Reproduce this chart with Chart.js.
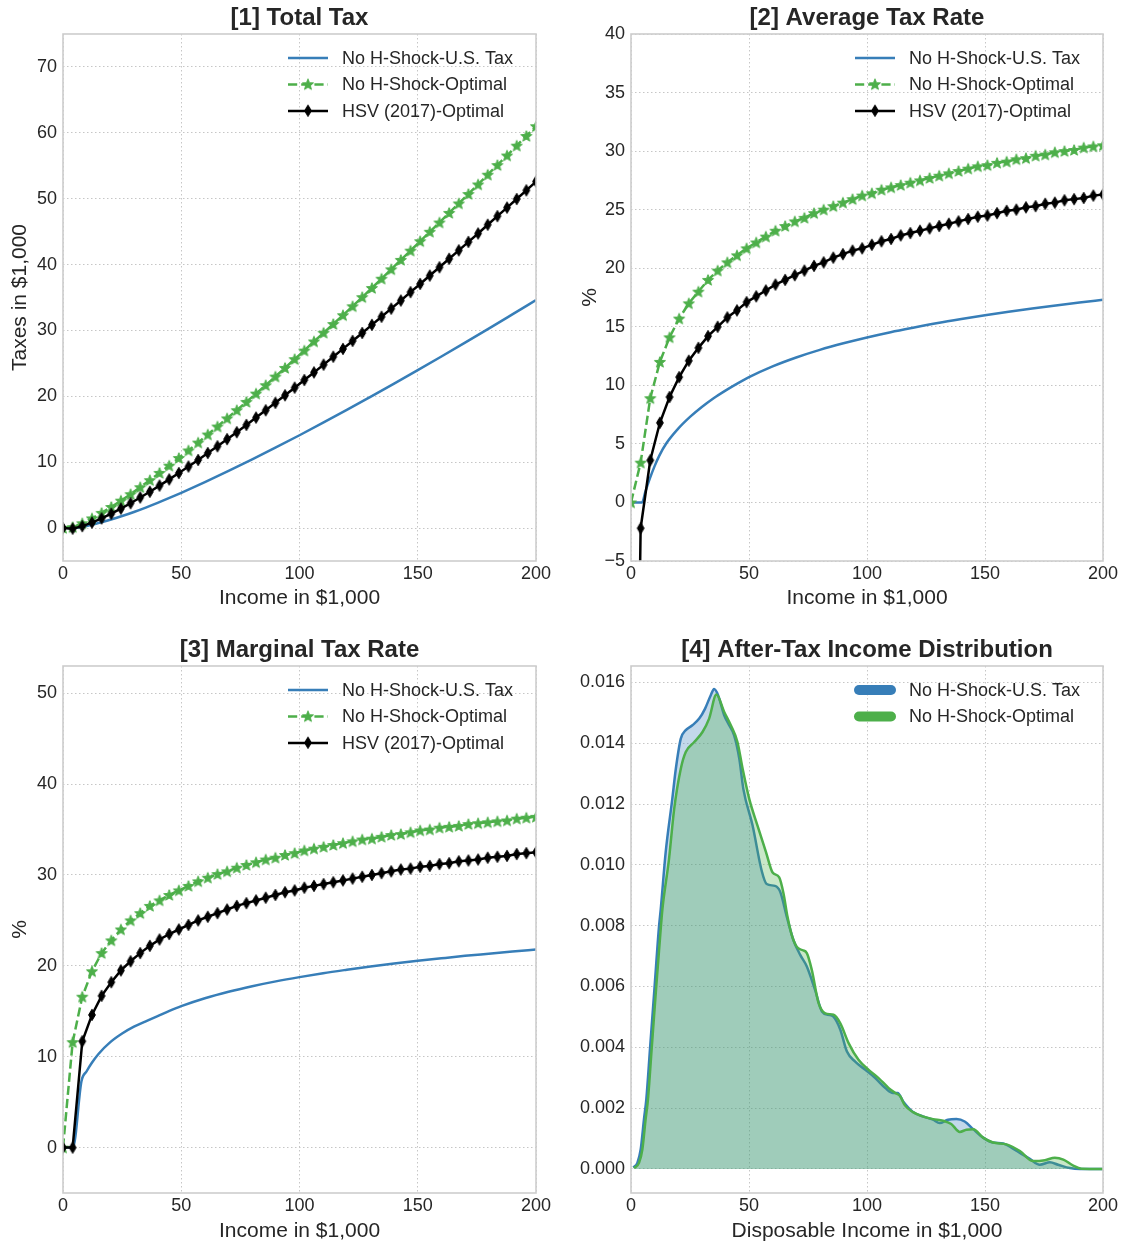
<!DOCTYPE html>
<html>
<head>
<meta charset="utf-8">
<script src="https://cdn.jsdelivr.net/npm/chart.js@4.4.0/dist/chart.umd.min.js"></script>
<style>
  html, body { margin: 0; padding: 0; background: #ffffff; }
  #fig { position: relative; width: 1124px; height: 1244px; overflow: hidden; }
  #fig canvas { position: absolute; }
</style>
</head>
<body>
<div id="fig">
  <canvas id="totalTax" width="562" height="622" style="left:0px;top:0px"></canvas>
  <canvas id="avgRate" width="562" height="622" style="left:562px;top:0px"></canvas>
  <canvas id="margRate" width="562" height="622" style="left:0px;top:622px"></canvas>
  <canvas id="density" width="562" height="622" style="left:562px;top:622px"></canvas>
</div>
<script>
// ---------------- data ----------------
// income grid (in $1,000) on which the optimal schedules are evaluated
const incomeGrid = [0, 4.08, 8.16, 12.24, 16.33, 20.41, 24.49, 28.57, 32.65, 36.73,
  40.82, 44.90, 48.98, 53.06, 57.14, 61.22, 65.31, 69.39, 73.47, 77.55,
  81.63, 85.71, 89.80, 93.88, 97.96, 102.04, 106.12, 110.20, 114.29, 118.37,
  122.45, 126.53, 130.61, 134.69, 138.78, 142.86, 146.94, 151.02, 155.10, 159.18,
  163.27, 167.35, 171.43, 175.51, 179.59, 183.67, 187.76, 191.84, 195.92, 200];

// [1] total tax, $1,000
const totalTaxOptimal = [0, 0.14, 0.73, 1.47, 2.30, 3.20, 4.16, 5.14, 6.20, 7.27,
  8.37, 9.47, 10.63, 11.78, 12.97, 14.20, 15.41, 16.65, 17.89, 19.15,
  20.41, 21.68, 22.99, 24.31, 25.64, 26.94, 28.33, 29.64, 30.97, 32.31,
  33.67, 35.05, 36.44, 37.85, 39.27, 40.71, 42.11, 43.54, 44.98, 46.38,
  47.84, 49.27, 50.71, 52.16, 53.64, 55.10, 56.55, 58.05, 59.52, 61.0];
const totalTaxHSV = [0, -0.09, 0.29, 0.83, 1.47, 2.18, 2.96, 3.77, 4.64, 5.51,
  6.45, 7.39, 8.35, 9.34, 10.34, 11.39, 12.41, 13.50, 14.55, 15.66,
  16.77, 17.88, 19.01, 20.16, 21.31, 22.47, 23.63, 24.81, 26.01, 27.20,
  28.41, 29.62, 30.85, 32.07, 33.31, 34.54, 35.81, 37.06, 38.33, 39.59,
  40.88, 42.16, 43.44, 44.72, 46.05, 47.35, 48.65, 49.95, 51.27, 52.6];

// [2] average tax rate, %
const avgRateOptimal = [0, 3.4, 8.9, 12.0, 14.1, 15.7, 17.0, 18.0, 19.0, 19.8,
  20.5, 21.1, 21.7, 22.2, 22.7, 23.2, 23.6, 24.0, 24.3, 24.7,
  25.0, 25.3, 25.6, 25.9, 26.2, 26.4, 26.7, 26.9, 27.1, 27.3,
  27.5, 27.7, 27.9, 28.1, 28.3, 28.5, 28.7, 28.8, 29.0, 29.1,
  29.3, 29.4, 29.6, 29.7, 29.9, 30.0, 30.1, 30.3, 30.4, 30.5];
const avgRateHSV = [-60, -2.2, 3.6, 6.8, 9.0, 10.7, 12.1, 13.2, 14.2, 15.0,
  15.8, 16.4, 17.1, 17.6, 18.1, 18.6, 19.0, 19.4, 19.8, 20.2,
  20.5, 20.9, 21.2, 21.5, 21.7, 22.0, 22.3, 22.5, 22.8, 23.0,
  23.2, 23.4, 23.6, 23.8, 24.0, 24.2, 24.4, 24.5, 24.7, 24.9,
  25.0, 25.2, 25.3, 25.5, 25.6, 25.8, 25.9, 26.0, 26.2, 26.3];

// [3] marginal tax rate, %
const margRateOptimal = [0, 11.6, 16.6, 19.4, 21.4, 22.8, 24.0, 25.0, 25.8, 26.6,
  27.2, 27.8, 28.3, 28.8, 29.3, 29.7, 30.1, 30.4, 30.8, 31.1,
  31.4, 31.7, 31.9, 32.2, 32.4, 32.7, 32.9, 33.1, 33.3, 33.5,
  33.7, 33.9, 34.0, 34.2, 34.4, 34.5, 34.7, 34.9, 35.0, 35.2,
  35.3, 35.4, 35.6, 35.7, 35.8, 35.9, 36.0, 36.2, 36.3, 36.4];
const margRateHSV = [0, 0, 11.7, 14.6, 16.7, 18.2, 19.5, 20.5, 21.4, 22.2,
  22.9, 23.5, 24.0, 24.5, 25.0, 25.4, 25.8, 26.2, 26.6, 26.9,
  27.2, 27.5, 27.8, 28.1, 28.3, 28.6, 28.8, 29.0, 29.2, 29.4,
  29.6, 29.8, 30.0, 30.2, 30.4, 30.6, 30.7, 30.9, 31.0, 31.2,
  31.3, 31.5, 31.6, 31.7, 31.9, 32.0, 32.1, 32.3, 32.4, 32.5];

// current U.S. tax schedule
const usIncome = [0, 4.7, 6, 8, 10, 12, 15, 20, 25, 30, 35, 40, 45, 50, 60, 70, 80, 90, 100,
  110, 120, 130, 140, 150, 160, 170, 180, 190, 200];
const usTotalTax = [0, 0, 0.051, 0.164, 0.31, 0.48, 0.758, 1.26, 1.825, 2.445, 3.115, 3.82, 4.568, 5.35,
  6.972, 8.666, 10.424, 12.231, 14.09, 15.994, 17.928, 19.916, 21.924, 23.97, 26.048, 28.152, 30.276, 32.433, 34.6];
const usAvgRate = [0, 0, 0.85, 2.05, 3.1, 4.0, 5.05, 6.3, 7.3, 8.15, 8.9, 9.55, 10.15, 10.7,
  11.62, 12.38, 13.03, 13.59, 14.09, 14.54, 14.94, 15.32, 15.66, 15.98, 16.28, 16.56, 16.82, 17.07, 17.3];
const usMargIncome = [0, 4.2, 7.8, 10, 12, 15, 20, 25, 30, 35, 40, 45, 50, 60, 70, 80, 90, 100,
  110, 120, 130, 140, 150, 160, 170, 180, 190, 200];
const usMargRate = [0, 0, 7.3, 8.4, 9.25, 10.3, 11.6, 12.55, 13.3, 13.9, 14.47, 15.04, 15.56, 16.43,
  17.15, 17.76, 18.29, 18.76, 19.19, 19.57, 19.93, 20.25, 20.55, 20.83, 21.10, 21.34, 21.58, 21.8];

// [4] after-tax income densities
const usDensityX = [1.0, 2.7, 4.1, 5.5, 6.5, 8.1, 10.0, 11.9, 12.6, 14.7,
  17.5, 19.0, 21.1, 23.2, 26.0, 28.9, 31.4, 33.8, 35.2, 36.9,
  39.5, 41.6, 43.7, 45.9, 47.6, 51.5, 55.4, 57.5, 61.0, 63.2,
  66.0, 68.8, 71.7, 74.5, 78.0, 80.9, 83.7, 85.8, 88.7, 91.5,
  95.0, 99.3, 103.5, 107.8, 111.0, 113.0, 115.5, 119.5, 123.7, 128.0,
  130.8, 134.3, 137.9, 141.4, 145.0, 149.2, 153.4, 157.7, 161.2, 164.8,
  169.0, 173.2, 177.5, 181.0, 186.0, 190.2, 200];
const usDensityY = [0.00005, 0.0002, 0.00064, 0.00164, 0.0023, 0.0040, 0.0060, 0.0080, 0.00854, 0.01042,
  0.01217, 0.01316, 0.01415, 0.01443, 0.01459, 0.01481, 0.01514, 0.01558, 0.01578, 0.01558,
  0.01492, 0.01459, 0.01426, 0.01349, 0.0125, 0.0113, 0.0098, 0.00937, 0.00931, 0.00912,
  0.0083, 0.00753, 0.00704, 0.00666, 0.00589, 0.00518, 0.00507, 0.00501, 0.00458, 0.00386,
  0.00353, 0.00326, 0.00299, 0.00266, 0.0025, 0.0025, 0.0022, 0.00187, 0.00173, 0.00162,
  0.00151, 0.00162, 0.00164, 0.00156, 0.00131, 0.00103, 0.00087, 0.00084, 0.0007, 0.00053,
  0.00033, 0.00014, 0.00022, 0.00014, 0.00003, 0, 0];
const optDensityX = [1.3, 3.4, 4.8, 6.2, 7.2, 8.8, 10.7, 12.7, 13.3, 16.1,
  18.3, 21.1, 23.2, 26.8, 30.3, 33.1, 36.2, 39.5, 42.3, 45.1,
  47.3, 50.1, 53.6, 57.2, 60.0, 62.8, 64.6, 66.3, 68.1, 70.2,
  72.5, 74.5, 76.6, 79.5, 82.3, 85.8, 88.7, 92.2, 96.4, 100.7,
  104.9, 109.2, 112.0, 114.0, 116.0, 119.5, 124.0, 128.0, 132.2, 135.7,
  139.3, 142.1, 145.0, 149.2, 153.4, 159.1, 164.8, 170.4, 175.4, 179.6,
  183.2, 187.4, 190.9, 200];
const optDensityY = [0.00003, 0.0002, 0.00064, 0.00164, 0.0023, 0.0040, 0.0060, 0.0080, 0.00854, 0.01019,
  0.01184, 0.01316, 0.01371, 0.01404, 0.01437, 0.01481, 0.0156, 0.01503, 0.01459, 0.01404,
  0.01316, 0.01217, 0.01129, 0.01042, 0.00975, 0.00959, 0.00907, 0.0083, 0.0077, 0.00731,
  0.0072, 0.0071, 0.00655, 0.00545, 0.00512, 0.00507, 0.00479, 0.00414, 0.00359, 0.00326,
  0.00299, 0.00266, 0.0025, 0.0024, 0.0021, 0.00187, 0.00172, 0.00164, 0.00159, 0.00148,
  0.00122, 0.00129, 0.00131, 0.00103, 0.00087, 0.00081, 0.00059, 0.00026, 0.00029, 0.00037,
  0.00031, 0.00011, 0.00001, 0];

// tick positions
const incomeTicks = [0, 50, 100, 150, 200];
const totalTaxTicks = [0, 10, 20, 30, 40, 50, 60, 70];
const avgRateTicks = [-5, 0, 5, 10, 15, 20, 25, 30, 35, 40];
const margRateTicks = [0, 10, 20, 30, 40, 50];
const densityTicks = [0, 0.002, 0.004, 0.006, 0.008, 0.010, 0.012, 0.014, 0.016];

const seriesNames = ['No H-Shock-U.S. Tax', 'No H-Shock-Optimal', 'HSV (2017)-Optimal'];

// ---------------- styling ----------------
const FONT = '"Liberation Sans", Arial, Helvetica, sans-serif';
const TXT = '#262626';
const GRID = '#c6c6c6';
const FRAME = '#cdcdcd';
const BLUE = '#377eb8', GREEN = '#4daf4a', BLACK = '#000000';
const LW = 2.5;
const DASH = [9.2, 4];
Chart.defaults.font.family = FONT;

function markerImage(kind, color) {
  const c = document.createElement('canvas');
  c.width = 16; c.height = 16;
  const g = c.getContext('2d');
  g.fillStyle = color; g.strokeStyle = color; g.lineWidth = 1; g.lineJoin = 'miter';
  g.beginPath();
  if (kind === 'star') {
    for (let i = 0; i < 10; i++) {
      const r = i % 2 ? 2.5 : 5.8;
      const a = -Math.PI / 2 + i * Math.PI / 5;
      const px = 8 + r * Math.cos(a), py = 8.5 + r * Math.sin(a);
      if (i) g.lineTo(px, py); else g.moveTo(px, py);
    }
  } else {
    g.moveTo(8, 2.3); g.lineTo(11.4, 8); g.lineTo(8, 13.7); g.lineTo(4.6, 8);
  }
  g.closePath(); g.fill(); g.stroke();
  return c;
}
const starMark = markerImage('star', GREEN);
const diamondMark = markerImage('diamond', BLACK);

const pairs = (xs, ys) => xs.map((x, i) => ({ x: x, y: ys[i] }));
const fmtNum = v => (v < 0 ? '\u2212' + Math.abs(v) : String(v));

// light grey box around each axes
const framePlugin = {
  id: 'frameBox',
  afterDatasetsDraw(chart) {
    const a = chart.chartArea, ctx = chart.ctx;
    ctx.save();
    ctx.strokeStyle = FRAME; ctx.lineWidth = 1.6;
    ctx.strokeRect(a.left, a.top, a.right - a.left, a.bottom - a.top);
    ctx.restore();
  }
};

// legend in the upper right corner of each axes
const legendPlugin = {
  id: 'cornerLegend',
  afterDraw(chart, args, opts) {
    const items = opts.items || [];
    const a = chart.chartArea, ctx = chart.ctx;
    ctx.save();
    ctx.font = '18px ' + FONT;
    ctx.textBaseline = 'middle';
    ctx.textAlign = 'left';
    items.forEach((it, i) => {
      const y = a.top + 24 + i * 26.5;
      const x0 = a.right - 248 + (it.inset || 0), x1 = a.right - 208 - (it.inset || 0);
      ctx.strokeStyle = it.color; ctx.lineWidth = it.width;
      ctx.lineCap = it.cap || 'butt';
      ctx.setLineDash(it.dash || []);
      ctx.beginPath(); ctx.moveTo(x0, y); ctx.lineTo(x1, y); ctx.stroke();
      ctx.setLineDash([]);
      if (it.marker) ctx.drawImage(it.marker, (x0 + x1) / 2 - 8, y - 8.3);
      ctx.fillStyle = TXT;
      ctx.fillText(it.label, a.right - 194, y + 1);
    });
    ctx.restore();
  }
};

function xAxis(label, height, labelPad) {
  return {
    type: 'linear', min: 0, max: 200,
    afterBuildTicks: s => { s.ticks = incomeTicks.map(v => ({ value: v })); },
    afterFit: s => { s.height = height; s.paddingLeft = 0; s.paddingRight = 0; },
    grid: { color: GRID, lineWidth: 1, drawTicks: false },
    border: { display: false, dash: [1.5, 2.5] },
    ticks: { color: TXT, font: { size: 18 }, padding: 2, maxRotation: 0, autoSkip: false, callback: v => fmtNum(v) },
    title: { display: true, text: label, color: TXT, font: { size: 21 }, padding: { top: 0, bottom: labelPad } }
  };
}
function yAxis(min, max, ticks, width, label, labelPad, fmt) {
  return {
    type: 'linear', min: min, max: max,
    afterBuildTicks: s => { s.ticks = ticks.map(v => ({ value: v })); },
    afterFit: s => { s.width = width; s.paddingTop = 0; s.paddingBottom = 0; },
    grid: { color: GRID, lineWidth: 1, drawTicks: false },
    border: { display: false, dash: [1.5, 2.5] },
    ticks: { color: TXT, font: { size: 18 }, padding: 6, autoSkip: false, callback: fmt || (v => fmtNum(v)) },
    title: { display: !!label, text: label || '', color: TXT, font: { size: 21 }, padding: { top: labelPad, bottom: 0 } }
  };
}

function taxLines(usX, usY, optY, hsvY) {
  return [
    { label: seriesNames[0], data: pairs(usX, usY), borderColor: BLUE, borderWidth: LW, pointRadius: 0,
      cubicInterpolationMode: 'monotone', fill: false, order: 3 },
    { label: seriesNames[1], data: pairs(incomeGrid, optY), borderColor: GREEN, borderWidth: LW,
      borderDash: DASH, tension: 0, pointStyle: starMark, pointRadius: 5, fill: false, order: 2 },
    { label: seriesNames[2], data: pairs(incomeGrid, hsvY), borderColor: BLACK, borderWidth: LW,
      tension: 0, pointStyle: diamondMark, pointRadius: 5, fill: false, order: 1 }
  ];
}
const taxLegend = [
  { label: seriesNames[0], color: BLUE, width: LW },
  { label: seriesNames[1], color: GREEN, width: LW, dash: DASH, marker: starMark },
  { label: seriesNames[2], color: BLACK, width: LW, marker: diamondMark }
];

function build(id, o) {
  return new Chart(document.getElementById(id), {
    type: 'line',
    data: { datasets: o.datasets },
    options: {
      responsive: false, animation: false, events: [],
      layout: { padding: { left: 0, top: 0, right: o.padRight, bottom: 0 } },
      plugins: {
        legend: { display: false },
        tooltip: { enabled: false },
        title: { display: true, fullSize: false, text: o.title, color: TXT,
          font: { size: 24, weight: 'bold', lineHeight: 1.1 },
          padding: { top: o.titleTop, bottom: o.titleBottom } },
        cornerLegend: { items: o.legend }
      },
      scales: { x: o.x, y: o.y }
    },
    plugins: [framePlugin, legendPlugin]
  });
}

build('totalTax', {
  title: '[1] Total Tax', titleTop: 5.4, titleBottom: 2.2, padRight: 26,
  datasets: taxLines(usIncome, usTotalTax, totalTaxOptimal, totalTaxHSV),
  legend: taxLegend,
  x: xAxis('Income in $1,000', 61, 11),
  y: yAxis(-5, 75, totalTaxTicks, 63, 'Taxes in $1,000', 7.4)
});

build('avgRate', {
  title: '[2] Average Tax Rate', titleTop: 5.4, titleBottom: 2.2, padRight: 21,
  datasets: taxLines(usIncome, usAvgRate, avgRateOptimal, avgRateHSV),
  legend: taxLegend,
  x: xAxis('Income in $1,000', 61, 11),
  y: yAxis(-5, 40, avgRateTicks, 69, '%', 15.4)
});

build('margRate', {
  title: '[3] Marginal Tax Rate', titleTop: 14.8, titleBottom: 2.8, padRight: 26,
  datasets: taxLines(usMargIncome, usMargRate, margRateOptimal, margRateHSV),
  legend: taxLegend,
  x: xAxis('Income in $1,000', 51, 0.6),
  y: yAxis(-5, 53, margRateTicks, 63, '%', 7.4)
});

build('density', {
  title: '[4] After-Tax Income Distribution', titleTop: 14.8, titleBottom: 2.8, padRight: 21,
  datasets: [
    { label: seriesNames[0], data: pairs(usDensityX, usDensityY), borderColor: BLUE, borderWidth: LW,
      backgroundColor: 'rgba(55,126,184,0.3)', fill: 'origin', pointRadius: 0,
      cubicInterpolationMode: 'monotone', order: 2 },
    { label: seriesNames[1], data: pairs(optDensityX, optDensityY), borderColor: GREEN, borderWidth: LW,
      backgroundColor: 'rgba(77,175,74,0.3)', fill: 'origin', pointRadius: 0,
      cubicInterpolationMode: 'monotone', order: 1 }
  ],
  legend: [
    { label: seriesNames[0], color: BLUE, width: 10, cap: 'round', inset: 4 },
    { label: seriesNames[1], color: GREEN, width: 10, cap: 'round', inset: 4 }
  ],
  x: xAxis('Disposable Income in $1,000', 51, 0.6),
  y: yAxis(-0.00079, 0.01654, densityTicks, 69, '', 0, v => v.toFixed(3))
});
</script>
</body>
</html>
